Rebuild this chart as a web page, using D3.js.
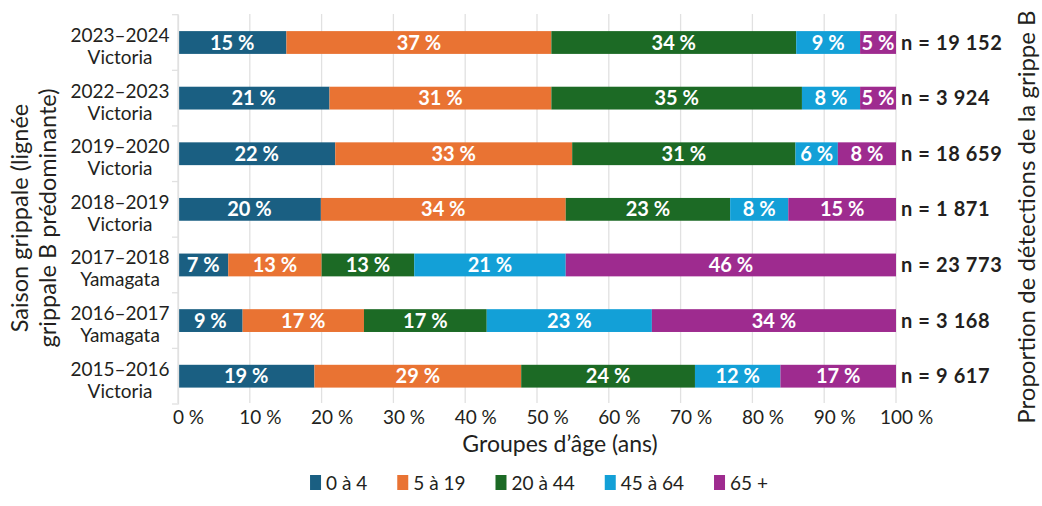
<!DOCTYPE html>
<html lang="fr">
<head>
<meta charset="UTF-8">
<title>Grippe B par groupe d'âge</title>
<script src="https://cdn.jsdelivr.net/npm/d3@7"></script>
<style>
  body { margin: 0; background: #fff; }
  svg text { font-family: Lato, "Open Sans", sans-serif; fill: #231f20; }
  .seg-label { fill: #fff; font-weight: 700; font-size: 20px; }
  .n-label { font-weight: 700; font-size: 20px; letter-spacing: 0.6px; }
</style>
</head>
<body>
<div id="chart"></div>
<script>
// saisons (du haut vers le bas)
const seasons = ["2023–2024", "2022–2023", "2019–2020", "2018–2019", "2017–2018", "2016–2017", "2015–2016"];
const lineages = ["Victoria", "Victoria", "Victoria", "Victoria", "Yamagata", "Yamagata", "Victoria"];
const ageGroups = ["0 à 4", "5 à 19", "20 à 44", "45 à 64", "65 +"];
const colors = ["#1a5f82", "#e97333", "#1c6a25", "#13a0d7", "#9e2b8f"];

// largeurs des segments (%)
const age0_4   = [15.1, 21.1, 21.9, 19.9,  7.0,  9.0, 19.0];
const age5_19  = [36.9, 30.9, 33.0, 34.1, 13.0, 16.9, 28.8];
const age20_44 = [34.1, 34.9, 31.1, 22.9, 12.9, 17.1, 24.2];
const age45_64 = [ 8.9,  8.1,  5.9,  8.1, 21.1, 23.0, 11.9];
const age65    = [ 5.0,  5.0,  8.1, 15.0, 46.0, 34.0, 16.1];

// étiquettes imprimées
const lab0_4   = [15, 21, 22, 20,  7,  9, 19];
const lab5_19  = [37, 31, 33, 34, 13, 17, 29];
const lab20_44 = [34, 35, 31, 23, 13, 17, 24];
const lab45_64 = [ 9,  8,  6,  8, 21, 23, 12];
const lab65    = [ 5,  5,  8, 15, 46, 34, 17];

const nCounts = [19152, 3924, 18659, 1871, 23773, 3168, 9617];
const xTicks = [0, 10, 20, 30, 40, 50, 60, 70, 80, 90, 100];

const series = [age0_4, age5_19, age20_44, age45_64, age65];
const labels = [lab0_4, lab5_19, lab20_44, lab45_64, lab65];

const width = 1042, height = 506;
const svg = d3.select("#chart").append("svg")
  .attr("width", width).attr("height", height);

const x = d3.scaleLinear().domain([0, 100]).range([178, 896]);
const y = d3.scaleBand().domain(seasons).range([14.7, 404])
  .paddingInner(0.59).paddingOuter(0.295);

const fr = d3.formatLocale({decimal: ",", thousands: "\u00a0", grouping: [3], currency: ["", " $"]});
const fmtN = fr.format(",d");

// table for the stack
const table = seasons.map((s, i) => {
  const row = {season: s};
  ageGroups.forEach((g, k) => { row[g] = series[k][i]; });
  return row;
});
const stacked = d3.stack().keys(ageGroups)(table);

// grid
svg.append("g").selectAll("line").data(xTicks).join("line")
  .attr("x1", d => x(d)).attr("x2", d => x(d))
  .attr("y1", 14).attr("y2", 403)
  .attr("stroke", "#e1e1e1").attr("stroke-width", 1.3);

// separators on the left axis
const bounds = d3.range(seasons.length + 1).map(i => y.range()[0] + i * y.step());
svg.append("g").selectAll("line").data(bounds).join("line")
  .attr("x1", 172).attr("x2", x(0))
  .attr("y1", d => d).attr("y2", d => d)
  .attr("stroke", "#e1e1e1").attr("stroke-width", 1.3);

// bars
const layers = svg.append("g").selectAll("g").data(stacked).join("g")
  .attr("fill", (d, k) => colors[k]);
layers.selectAll("rect").data(d => d).join("rect")
  .attr("x", d => x(d[0]))
  .attr("width", d => x(d[1]) - x(d[0]))
  .attr("y", d => y(d.data.season))
  .attr("height", y.bandwidth());

// labels in segments
stacked.forEach((layer, k) => {
  svg.append("g").selectAll("text").data(layer).join("text")
    .attr("class", "seg-label")
    .attr("text-anchor", "middle")
    .attr("x", d => (x(d[0]) + x(d[1])) / 2)
    .attr("y", d => y(d.data.season) + y.bandwidth() / 2 + 7)
    .text((d, i) => labels[k][i] + "\u00a0%");
});

// n labels
svg.append("g").selectAll("text").data(seasons).join("text")
  .attr("class", "n-label")
  .attr("x", 901)
  .attr("y", d => y(d) + y.bandwidth() / 2 + 7)
  .text((d, i) => "n = " + fmtN(nCounts[i]));

// left axis: categories (two centred lines)
const yAxis = svg.append("g")
  .attr("transform", `translate(${x(0)},0)`)
  .call(d3.axisLeft(y).tickSize(0).tickFormat(""));
yAxis.select(".domain").attr("stroke", "#e1e1e1").attr("stroke-width", 1.3);
yAxis.selectAll(".tick").each(function(d, i) {
  const t = d3.select(this).append("text")
    .attr("text-anchor", "middle")
    .style("font-size", "19px");
  t.append("tspan").attr("x", -58).attr("y", -0.5).text(d);
  t.append("tspan").attr("x", -58).attr("y", 21.5).text(lineages[i]);
});

// bottom axis
const xAxis = svg.append("g")
  .attr("transform", "translate(0,404)")
  .call(d3.axisBottom(x).tickValues(xTicks).tickSize(0).tickFormat(d => d + "\u00a0%"));
xAxis.select(".domain").remove();
xAxis.selectAll(".tick text")
  .style("font-size", "19px").attr("fill", "#231f20")
  .attr("y", 20).attr("dy", 0)
  .each(function(d) {
    const el = d3.select(this);
    el.text(d);
    const w = this.getComputedTextLength();
    el.text(d + "\u00a0%").attr("text-anchor", "start").attr("x", -w / 2);
  });

// titles
svg.append("text")
  .attr("x", 560).attr("y", 452)
  .attr("text-anchor", "middle").style("font-size", "23px")
  .text("Groupes d’âge (ans)");

const leftTitle = svg.append("text")
  .attr("transform", "translate(0,218) rotate(-90)")
  .attr("text-anchor", "middle").style("font-size", "23.5px");
leftTitle.append("tspan").attr("x", 0).attr("y", 28).text("Saison grippale (lignée");
leftTitle.append("tspan").attr("x", 0).attr("y", 56).text("grippale B prédominante)");

svg.append("text")
  .attr("transform", "translate(1035,217) rotate(-90)")
  .attr("text-anchor", "middle").style("font-size", "24px")
  .text("Proportion de détections de la grippe B");

// legend
const legend = svg.append("g");
let lx = 0;
ageGroups.forEach((g, k) => {
  const item = legend.append("g").attr("transform", `translate(${lx},0)`);
  item.append("rect").attr("x", 0).attr("y", 475).attr("width", 11).attr("height", 15)
    .attr("fill", colors[k]);
  const t = item.append("text").attr("x", 16).attr("y", 490)
    .style("font-size", "19px").text(g);
  lx += 16 + t.node().getComputedTextLength() + 30;
});
const lw = lx - 30;
legend.attr("transform", `translate(${539 - lw / 2},0)`);
</script>
</body>
</html>
